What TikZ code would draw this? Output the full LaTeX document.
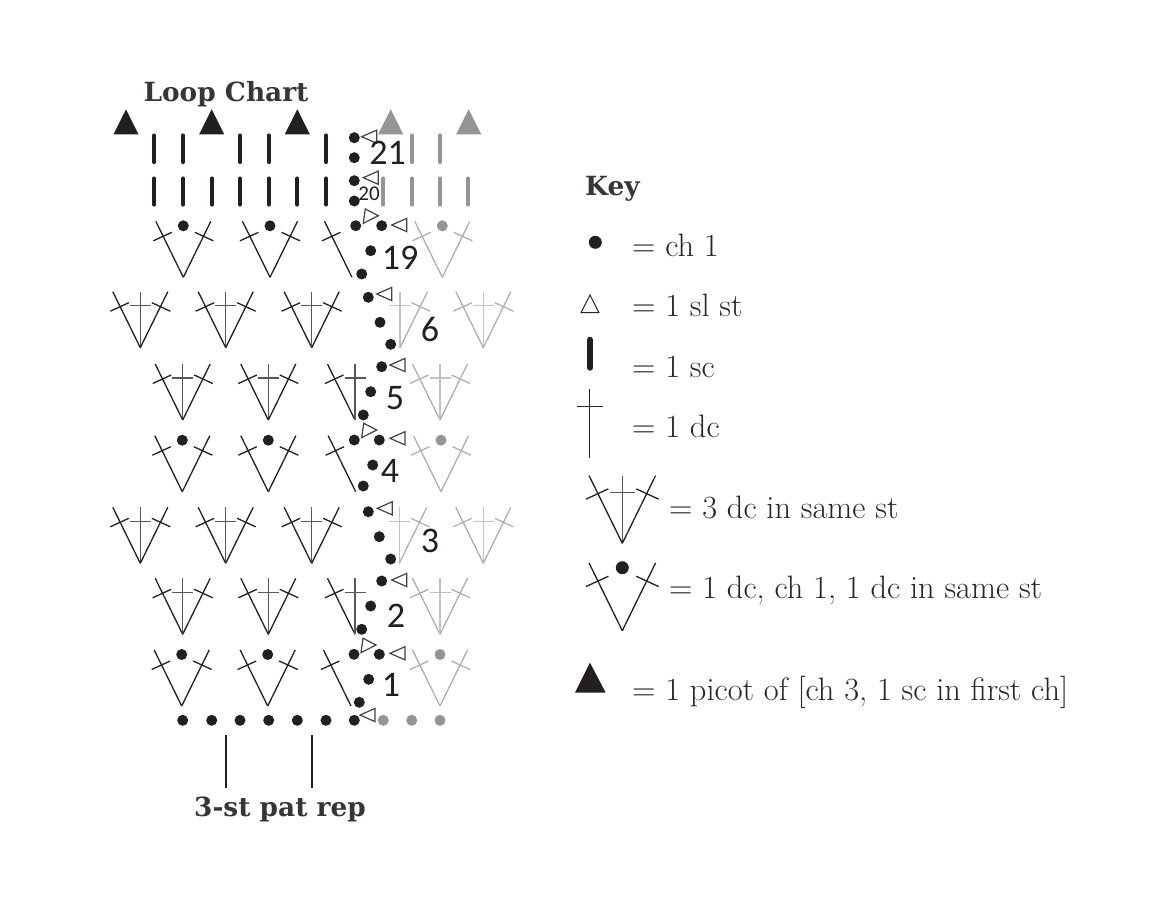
\documentclass[tikz,border=0pt]{standalone}
\usepackage{fontspec}
\newfontfamily\slabfont{DejaVu Serif}
\newfontfamily\numfont{Carlito}
\definecolor{stink}{HTML}{231F20}
\definecolor{fadeink}{HTML}{ADAFB2}
\definecolor{fadedot}{HTML}{939598}
\definecolor{keyink}{HTML}{262626}
\tikzset{
    dcline/.style={line width=1.3pt},
    scline/.style={line width=4.2pt, line cap=round},
    slline/.style={draw=stink!85, line width=1.2pt, fill=white, line join=miter},
    rownum/.style={text=stink, inner sep=0pt, font=\numfont\fontsize{36}{36}\selectfont},
    headtext/.style={text=stink!90, inner sep=0pt, anchor=base, font=\slabfont\bfseries\fontsize{26.4}{28}\selectfont},
    keytext/.style={text=keyink, inner sep=0pt, anchor=base west, font=\fontsize{32.4}{35}\selectfont},
    leftdc/.pic={
        \draw[dcline] (0,0) -- (-27.5,-56);
        \draw[dcline] (-30,-36.5) -- (-11.5,-45);
    },
    rightdc/.pic={
        \draw[dcline] (0,0) -- (27.5,-56);
        \draw[dcline] (30,-36.5) -- (11.5,-45);
    },
    middc/.pic={
        \draw[dcline, color=.!75] (0,0) -- (0,-56);
        \draw[dcline, color=.!75] (-10.5,-42) -- (10.5,-42);
    },
    threedc/.pic={
        \pic {leftdc};
        \pic {middc};
        \pic {rightdc};
    },
    dotv/.pic={
        \pic {leftdc};
        \pic {rightdc};
        \fill (0,-51.5) circle (5.5);
    },
    leftsl/.pic={\draw[slline] (0,0) -- (15,-6.6) -- (15,6.6) -- cycle;},
    rightsl/.pic={\draw[slline] (0,0) -- (-13,-6.8) -- (-15,7.6) -- cycle;}
}
\begin{document}
\begin{tikzpicture}[x=1pt, y=-1pt]
    \useasboundingbox (0,0) rectangle (1164,914);

    % titles
    \node[headtext] (charttitle) at (226,101.7) {Loop Chart};
    \node[headtext] (reptext) at (280,816.7) {3-st pat rep};
    \node[headtext, anchor=base west] (keytitle) at (585,195) {Key};

    % picots
    \foreach \x in {126,211.7,297.3} {
        \fill[stink] (\x,109.3) -- (\x+12.5,134.3) -- (\x-12.5,134.3) -- cycle;
    }
    \foreach \x in {390.7,468.7} {
        \fill[fadedot] (\x,109.3) -- (\x+12.5,134.3) -- (\x-12.5,134.3) -- cycle;
    }

    % rows 21 and 20
    \foreach \x in {154.3,183,240,268.7,326} {
        \draw[scline, stink] (\x,135.5) -- (\x,162);
    }
    \foreach \x in {411.7,440} {
        \draw[scline, fadedot] (\x,135.5) -- (\x,162);
    }
    \foreach \x in {154.3,183,211.7,240,268.7,297.3,326} {
        \draw[scline, stink] (\x,178.5) -- (\x,204.5);
    }
    \foreach \x in {383.3,411.7,440,468.3} {
        \draw[scline, fadedot] (\x,178.5) -- (\x,204.5);
    }

    % row 19
    \begin{scope}[yshift=-277.3pt, color=stink]
        \pic at (183.3,0) {dotv};
        \pic at (270,0) {dotv};
        \pic at (352,0) {leftdc};
        \pic[color=fadeink] at (442.3,0) {leftdc};
        \pic[color=fadeink] at (442.3,0) {rightdc};
        \fill[fadedot] (442.3,-51.5) circle (5.5);
    \end{scope}

    % row 6
    \begin{scope}[yshift=-347.7pt, color=stink]
        \pic at (140.3,0) {threedc};
        \pic at (225.7,0) {threedc};
        \pic at (311.7,0) {threedc};
        \pic[color=fadeink] at (400,0) {middc};
        \pic[color=fadeink] at (400,0) {rightdc};
        \pic[color=fadeink] at (483.3,0) {threedc};
    \end{scope}

    % row 5
    \begin{scope}[yshift=-420pt, color=stink]
        \pic at (182.7,0) {threedc};
        \pic at (268.3,0) {threedc};
        \pic at (355,0) {leftdc};
        \pic at (355,0) {middc};
        \pic[color=fadeink] at (440,0) {threedc};
    \end{scope}

    % row 4
    \begin{scope}[yshift=-491.7pt, color=stink]
        \pic at (182.3,0) {dotv};
        \pic at (268.3,0) {dotv};
        \pic at (355.7,0) {leftdc};
        \pic[color=fadeink] at (441,0) {leftdc};
        \pic[color=fadeink] at (441,0) {rightdc};
        \fill[fadedot] (441,-51.5) circle (5.5);
    \end{scope}

    % row 3
    \begin{scope}[yshift=-563.3pt, color=stink]
        \pic at (140.3,0) {threedc};
        \pic at (225.7,0) {threedc};
        \pic at (311.7,0) {threedc};
        \pic[color=fadeink] at (399.3,0) {middc};
        \pic[color=fadeink] at (399.3,0) {rightdc};
        \pic[color=fadeink] at (483.3,0) {threedc};
    \end{scope}

    % row 2
    \begin{scope}[yshift=-634.3pt, color=stink]
        \pic at (182.7,0) {threedc};
        \pic at (268.3,0) {threedc};
        \pic at (355,0) {leftdc};
        \pic at (355,0) {middc};
        \pic[color=fadeink] at (440,0) {threedc};
    \end{scope}

    % row 1
    \begin{scope}[yshift=-706pt, color=stink]
        \pic at (181.7,0) {dotv};
        \pic at (267.7,0) {dotv};
        \pic at (351,0) {leftdc};
        \pic[color=fadeink] at (440,0) {leftdc};
        \pic[color=fadeink] at (440,0) {rightdc};
        \fill[fadedot] (440,-51.5) circle (5.5);
    \end{scope}

    % turning chains
    \foreach \p in {(354.3,137.7),(354.3,157.7),(354.3,180.7),(354.3,201),(355.7,225.7),(381.7,225.7),
                    (370.7,250.7),(361.7,274),(368.3,297.3),(380,322.3),(390.7,344.3),(381.7,366.7),
                    (370.7,391.7),(363.3,415),(354.3,440),(379.3,440),(372.7,465),(363.3,486),
                    (368.3,511.7),(379.3,536.7),(390.7,559),(381.7,581),(370.7,606),(361.7,629.3),
                    (354,654.3),(379.3,654.3),(368.7,679.3),(359.3,702.3)} {
        \fill[stink] \p circle (5.5);
    }

    % foundation chain
    \foreach \x in {182.7,211.7,240,268.7,297.3,326,354.3} {
        \fill[stink] (\x,720.3) circle (5.5);
    }
    \foreach \x in {383.3,411.7,440} {
        \fill[fadedot] (\x,720.3) circle (5.5);
    }

    % slip stitches
    \foreach \p in {(361.7,136.7),(363.3,177.7),(391.7,225),(376.7,294),(390,365),(390,438.3),
                    (377.3,508.3),(391.7,580),(390,653.3),(360,715)} {
        \pic at \p {leftsl};
    }
    \foreach \p in {(378.3,215.7),(376.7,430),(376,645)} {
        \pic at \p {rightsl};
    }

    % row numbers
    \node[rownum] (rowxxi) at (387.5,153) {21};
    \node[rownum, font=\numfont\fontsize{21}{21}\selectfont] (rowxx) at (369,194) {20};
    \node[rownum] (rowxix) at (400,258) {19};
    \node[rownum] (rowvi) at (430,329) {6};
    \node[rownum] (rowv) at (395,398) {5};
    \node[rownum] (rowiv) at (390,471) {4};
    \node[rownum] (rowiii) at (430,541) {3};
    \node[rownum] (rowii) at (396,616) {2};
    \node[rownum] (rowi) at (391,685) {1};

    % repeat marks
    \coordinate (repa) at (226,735);
    \coordinate (repb) at (311.7,735);
    \draw[stink, line width=2.3pt] (repa) -- ++(0,53);
    \draw[stink, line width=2.3pt] (repb) -- ++(0,53);

    % key symbols
    \begin{scope}[color=stink]
        \fill (595.3,242.3) circle (6.5);
        \draw[keyink, line width=1pt] (590,295) -- (599,312.7) -- (581,312.7) -- cycle;
        \draw[line width=6pt, line cap=round] (590,339.7) -- (590,367.7);
        \draw[keyink, line width=1.3pt] (589.7,389.3) -- (589.7,457.7);
        \draw[keyink, line width=1.3pt] (577.3,406.7) -- (602.7,406.7);
        \pic[scale=1.21] at (622.3,543.3) {leftdc};
        \pic[scale=1.21] at (622.3,543.3) {middc};
        \pic[scale=1.21] at (622.3,543.3) {rightdc};
        \pic[scale=1.21] at (622.3,630.7) {leftdc};
        \pic[scale=1.21] at (622.3,630.7) {rightdc};
        \fill (622.3,567.7) circle (6.5);
        \fill (590,662.7) -- (605.7,692.7) -- (575,692.7) -- cycle;
    \end{scope}

    % key texts
    \node[keytext] (keych) at (632,256.7) {= ch 1};
    \node[keytext] (keysl) at (632,316.7) {= 1 sl st};
    \node[keytext] (keysc) at (632,377) {= 1 sc};
    \node[keytext] (keydc) at (632,437) {= 1 dc};
    \node[keytext] (keythree) at (669,518) {= 3 dc in same st};
    \node[keytext] (keyvst) at (669,598) {= 1 dc, ch 1, 1 dc in same st};
    \node[keytext] (keypicot) at (632,700) {= 1 picot of [ch 3, 1 sc in first ch]};
\end{tikzpicture}
\end{document}
